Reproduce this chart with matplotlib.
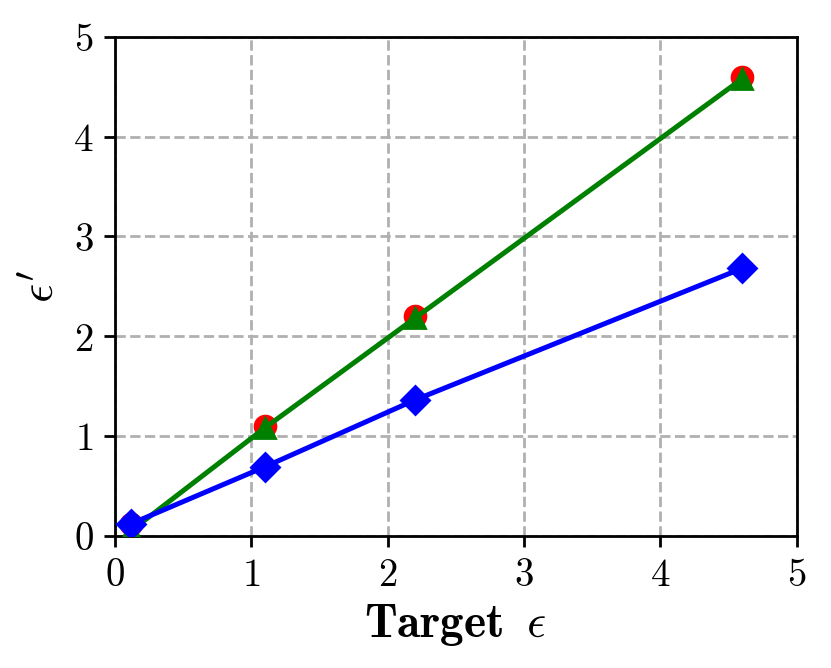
import matplotlib
matplotlib.use("Agg")
import matplotlib.pyplot as plt
from matplotlib.ticker import FuncFormatter

plt.rcParams['mathtext.fontset'] = 'cm'
plt.rcParams['font.family'] = ['DejaVu Serif']

target_eps = [0.12, 1.1, 2.2, 4.6]
red_vals = [0.12, 1.1, 2.2, 4.6]
green_vals = [0.05, 1.08, 2.18, 4.58]
blue_x = [0.12, 1.1, 2.2, 4.6]
blue_vals = [0.12, 0.69, 1.36, 2.68]
ticks = [0, 1, 2, 3, 4, 5]

fig = plt.figure(figsize=(8.31/2, 6.68/2), dpi=200)
ax = fig.add_axes([0.138, 0.198, 0.821, 0.747])

ax.plot(target_eps, red_vals, 'o', color='red', markersize=7.5, zorder=3)
ax.plot(target_eps, green_vals, '^-', color='green', markersize=7.5, linewidth=1.8, zorder=4)
ax.plot(blue_x, blue_vals, 'D-', color='blue', markersize=7, linewidth=1.8, zorder=5)

ax.set_xlim(0, 5)
ax.set_ylim(0, 5)
ax.set_xticks(ticks)
ax.set_yticks(ticks)
fmt = FuncFormatter(lambda v, p: r'$%d$' % v)
ax.xaxis.set_major_formatter(fmt)
ax.yaxis.set_major_formatter(fmt)
ax.tick_params(labelsize=14, direction='out', length=4, width=1)
ax.grid(True, linestyle='--', color='#b0b0b0', linewidth=1)
ax.set_axisbelow(True)
for s in ax.spines.values():
    s.set_linewidth(1)
ax.set_xlabel(r'$\mathbf{Target}\;\;\epsilon$', fontsize=17, labelpad=3)
ax.set_ylabel(r"$\epsilon'$", fontsize=17)

fig.savefig('out.png', dpi=200)
